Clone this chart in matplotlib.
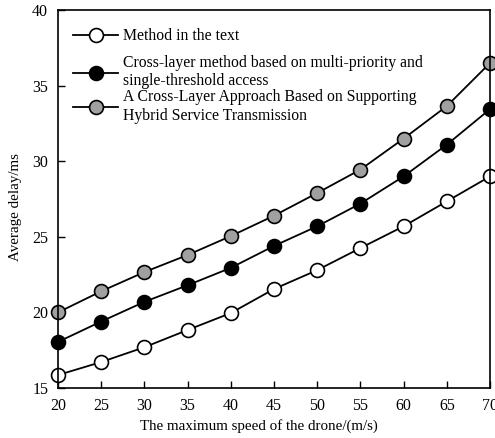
import matplotlib.pyplot as plt

plt.rcParams['font.family'] = ['Liberation Serif', 'DejaVu Serif']

speed = [20, 25, 30, 35, 40, 45, 50, 55, 60, 65, 70]
delay_text = [15.86, 16.72, 17.7, 18.84, 19.96, 21.55, 22.8, 24.26, 25.7, 27.35, 29.0]
delay_multi = [18.05, 19.4, 20.7, 21.8, 22.95, 24.4, 25.7, 27.2, 29.0, 31.1, 33.45]
delay_hybrid = [20.0, 21.4, 22.67, 23.8, 25.05, 26.4, 27.9, 29.45, 31.5, 33.65, 36.5]

labels = ['Method in the text',
          'Cross-layer method based on multi-priority and\nsingle-threshold access',
          'A Cross-Layer Approach Based on Supporting\nHybrid Service Transmission']

fig = plt.figure(figsize=(4.95, 4.38), dpi=100)
ax = fig.add_axes([0.117, 0.114, 0.873, 0.863])

style = dict(color='black', lw=1.3, marker='o', markersize=10,
             markeredgecolor='black', markeredgewidth=1.2, clip_on=False)
l1, = ax.plot(speed, delay_text, markerfacecolor='white', **style)
l2, = ax.plot(speed, delay_multi, markerfacecolor='black', **style)
l3, = ax.plot(speed, delay_hybrid, markerfacecolor='#a0a0a0', **style)

ax.set_xlim(20, 70)
ax.set_ylim(15, 40)
ax.set_xticks(range(20, 71, 5))
ax.set_yticks(range(15, 41, 5))
ax.tick_params(direction='in', length=5, width=1, labelsize=11.5, pad=7,
               top=False, right=False)
for s in ax.spines.values():
    s.set_linewidth(1.2)

ax.set_xlabel('The maximum speed of the drone/(m/s)', fontsize=10.8)
ax.set_ylabel('Average delay/ms', fontsize=10.8)
ax.xaxis.set_label_coords(0.465, -0.082)
ax.yaxis.set_label_coords(-0.083, 0.48)

leg_kw = dict(frameon=False, fontsize=11.3, handlelength=2.9, handletextpad=0.3,
              borderaxespad=0, loc='upper left')
leg1 = ax.legend([l1], [labels[0]], bbox_to_anchor=(0.02, 0.968), **leg_kw)
ax.add_artist(leg1)
ax.legend([l2, l3], labels[1:], bbox_to_anchor=(0.02, 0.898),
          labelspacing=0.0, **leg_kw)

fig.savefig('out.png', dpi=100)
